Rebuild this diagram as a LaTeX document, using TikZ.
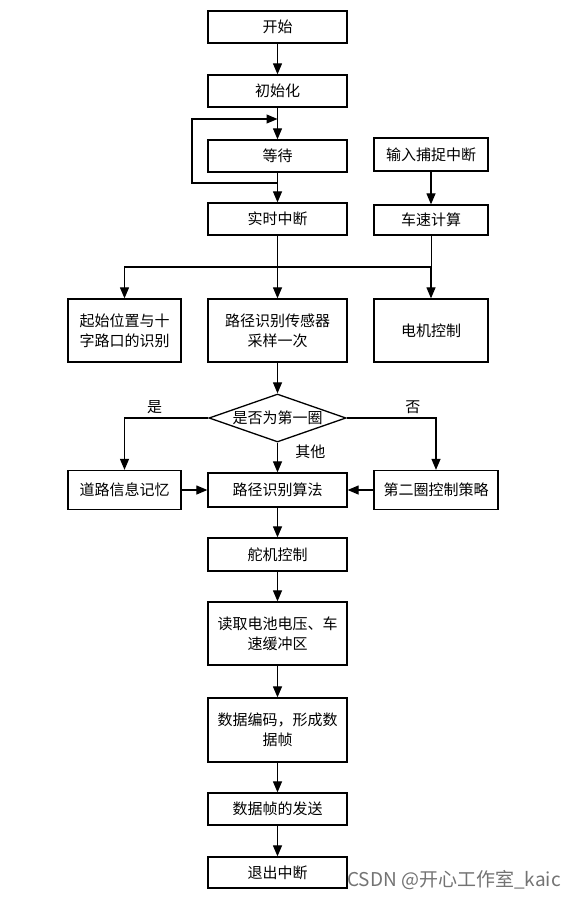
\documentclass[tikz,border=0pt]{standalone}
\usepackage{fontspec}
\newfontfamily\cjk{Noto Sans CJK SC}
\usepackage{tikz}
\usetikzlibrary{
  	arrows.meta,
  	shapes.geometric,
  	positioning,
  	calc
  }
\tikzstyle{blk}=[draw,line width=1.3pt,minimum width=139,minimum height=32,inner sep=0pt,align=center,font=\cjk\fontsize{15}{20}\selectfont]
\tikzstyle{side}=[blk,minimum width=113]
\tikzstyle{dec}=[draw,diamond,aspect=2.85,line width=1.3pt,minimum width=137,minimum height=48,inner sep=0pt,font=\cjk\fontsize{15}{20}\selectfont]
\tikzstyle{arr}=[line width=1.2pt,-{Triangle[length=11pt,width=9pt]}]
\tikzstyle{lbl}=[font=\cjk\fontsize{15}{20}\selectfont]

\begin{document}
\begin{tikzpicture}[x=1pt,y=-1pt]
\useasboundingbox (0,0) rectangle (577,900);
\node[blk] (a) at (277.5,27) {开始};
\node[blk] (b) at (277.5,91) {初始化};
\node[blk] (c) at (277.5,156) {等待};
\node[blk] (d) at (277.5,219) {实时中断};
\node[side,minimum width=114,minimum height=33] (e) at (431,154.5) {输入捕捉中断};
\node[side,minimum width=114,minimum height=30] (f) at (431,220) {车速计算};
\node[side,minimum height=63] (g) at (124.5,330.5) {起始位置与十\\字路口的识别};
\node[blk,minimum height=63] (h) at (277.5,330.5) {路径识别传感器\\采样一次};
\node[side,minimum width=114,minimum height=63] (i) at (431,330.5) {电机控制};
\node[dec] (j) at (277.5,418) {是否为第一圈};
\node[side,minimum height=39] (k) at (124.5,490) {道路信息记忆};
\node[blk,minimum height=34] (l) at (277.5,490) {路径识别算法};
\node[side,minimum width=124,minimum height=39] (m) at (436,490) {第二圈控制策略};
\node[blk,minimum height=33] (n) at (277.5,554.5) {舵机控制};
\node[blk,minimum height=63] (o) at (277.5,633.5) {读取电池电压、车\\速缓冲区};
\node[blk,minimum height=64] (p) at (277.5,730) {数据编码，形成数\\据帧};
\node[blk] (q) at (277.5,809) {数据帧的发送};
\node[blk,minimum height=31] (r) at (277.5,872.5) {退出中断};
\coordinate (t) at (277.5,119);
\coordinate (w) at (277.5,183);
\coordinate (s) at (277.5,267);
% wait loop
\draw[arr] (a) -- (b);
\draw[arr] (b) -- (c);
\draw[arr] (c) -- (d);
\draw[arr] (w) -- ++(-85.5,0) |- (t);
\draw[arr] (e) -- (f);
% branches after the interrupt
\draw (d) -- (s);
\draw (f) -- (f |- s);
\draw[arr] (s) -- (h);
\draw[arr] (s) -| (g);
\draw[arr] (s) -| (i);
\draw[arr] (h) -- (j);
\draw[arr] (j) -| (k) node[lbl,pos=.32,above]{是};
\draw[arr] (j) -| (m) node[lbl,pos=.37,above]{否};
\draw[arr] (j) -- (l) node[lbl,pos=.3,right=14pt]{其他};
\draw[arr] (k) -- (l);
\draw[arr] (m) -- (l);
\draw[arr] (l) -- (n);
\draw[arr] (n) -- (o);
\draw[arr] (o) -- (p);
\draw[arr] (p) -- (q);
\draw[arr] (q) -- (r);
\node[font=\cjk\fontsize{19}{20}\selectfont,text=black!55] (wm) at (454,880) {CSDN @开心工作室\_kaic};
\end{tikzpicture}
\end{document}
